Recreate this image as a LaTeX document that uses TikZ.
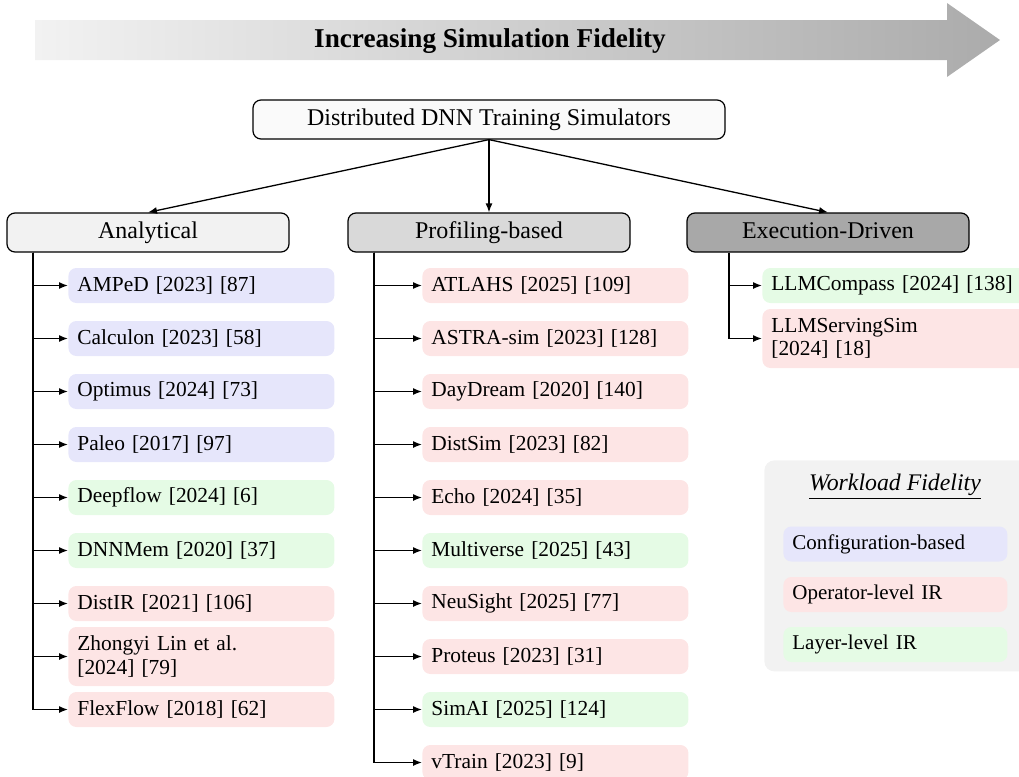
\documentclass[tikz,border=0pt]{standalone}
\usepackage{fontspec}
\setmainfont{Liberation Serif}
\usetikzlibrary{arrows.meta}
\definecolor{leafblue}{HTML}{E6E6FB}
\definecolor{leafred}{HTML}{FDE5E5}
\definecolor{leafgreen}{HTML}{E5FBE5}
\definecolor{legendbg}{HTML}{F2F2F2}
\definecolor{anafill}{HTML}{F2F2F2}
\definecolor{proffill}{HTML}{D9D9D9}
\definecolor{execfill}{HTML}{A8A8A8}
\definecolor{rootfill}{HTML}{FAFAFA}
\definecolor{arrowleft}{HTML}{F2F2F2}
\definecolor{arrowright}{HTML}{ABABAB}
\begin{document}
\begin{tikzpicture}[x=0.5pt,y=-0.5pt,
  rootbox/.style={draw=black, line width=0.6pt, rounded corners=4pt, fill=rootfill,
    minimum width=236pt, minimum height=19.5pt, inner sep=0pt, text height=8.5pt, text depth=2.5pt,
    font=\fontsize{12}{14}\selectfont},
  catbox/.style={draw=black, line width=0.6pt, rounded corners=4pt,
    minimum width=141pt, minimum height=19.5pt, inner sep=0pt, text height=8.5pt, text depth=2.5pt,
    font=\fontsize{12}{14}\selectfont},
  leaf/.style={rounded corners=4pt, anchor=west, minimum width=133pt, minimum height=17.5pt,
    text width=124pt, inner xsep=4.5pt, inner ysep=1pt, align=left,
    font=\fontsize{10.7}{11.8}\selectfont},
  tall/.style={minimum height=29.5pt},
  conf/.style={leaf, fill=leafblue},
  oper/.style={leaf, fill=leafred},
  layer/.style={leaf, fill=leafgreen},
  legitem/.style={rounded corners=4pt, anchor=west, minimum width=112pt, minimum height=17.5pt,
    text width=103pt, inner xsep=4.5pt, inner ysep=1pt, align=left,
    font=\fontsize{10.5}{12}\selectfont},
  conn/.style={line width=0.65pt, -{Latex[length=4.5pt,width=3.5pt]}},
  trunk/.style={line width=0.65pt}
]
\useasboundingbox (0,0) rectangle (1019,777);

% big gradient arrow
\shade[left color=arrowleft, right color=arrowright]
  (35,20) -- (947,20) -- (947,3) -- (1000,40) -- (947,77) -- (947,60) -- (35,60) -- cycle;
\node[font=\fontsize{13.6}{16}\selectfont\bfseries] (title) at (490,41) {Increasing Simulation Fidelity};

% root and categories
\node[rootbox] (root) at (489,119.5) {Distributed DNN Training Simulators};
\node[catbox, fill=anafill] (ana) at (148,232.5) {Analytical};
\node[catbox, fill=proffill] (prof) at (489,232.5) {Profiling-based};
\node[catbox, fill=execfill] (exec) at (828,232.5) {Execution-Driven};

\draw[conn] (root.south) -- (ana.north);
\draw[conn] (root.south) -- (prof.north);
\draw[conn] (root.south) -- (exec.north);

% column 1
\coordinate (c1) at (33,0);
\node[conf]  (a1) at (68,285.5) {AMPeD [2023] [87]};
\node[conf]  (a2) at (68,338.5) {Calculon [2023] [58]};
\node[conf]  (a3) at (68,391.5) {Optimus [2024] [73]};
\node[conf]  (a4) at (68,444.5) {Paleo [2017] [97]};
\node[layer] (a5) at (68,497.5) {Deepflow [2024] [6]};
\node[layer] (a6) at (68,550.5) {DNNMem [2020] [37]};
\node[oper]  (a7) at (68,603.5) {DistIR [2021] [106]};
\node[oper, tall] (a8) at (68,656.5) {Zhongyi Lin et al.\\{}[2024] [79]};
\node[oper]  (a9) at (68,709.5) {FlexFlow [2018] [62]};
\foreach \n in {a1,a2,a3,a4,a5,a6,a7,a8,a9}
  \draw[conn] (ana.south -| c1) |- (\n.west);

% column 2
\coordinate (c2) at (374,0);
\node[oper]  (b1) at (422,285.5) {ATLAHS [2025] [109]};
\node[oper]  (b2) at (422,338.5) {ASTRA-sim [2023] [128]};
\node[oper]  (b3) at (422,391.5) {DayDream [2020] [140]};
\node[oper]  (b4) at (422,444.5) {DistSim [2023] [82]};
\node[oper]  (b5) at (422,497.5) {Echo [2024] [35]};
\node[layer] (b6) at (422,550.5) {Multiverse [2025] [43]};
\node[oper]  (b7) at (422,603.5) {NeuSight [2025] [77]};
\node[oper]  (b8) at (422,656.5) {Proteus [2023] [31]};
\node[layer] (b9) at (422,709.5) {SimAI [2025] [124]};
\node[oper]  (b10) at (422,762.5) {vTrain [2023] [9]};
\foreach \n in {b1,b2,b3,b4,b5,b6,b7,b8,b9,b10}
  \draw[conn] (prof.south -| c2) |- (\n.west);

% column 3
\coordinate (c3) at (729,0);
\node[layer] (e1) at (762,285.5) {LLMCompass [2024] [138]};
\node[oper, tall] (e2) at (762,338.5) {LLMServingSim\\{}[2024] [18]};
\foreach \n in {e1,e2}
  \draw[conn] (exec.south -| c3) |- (\n.west);

% legend
\node[fill=legendbg, rounded corners=5pt, anchor=north west, minimum width=140pt,
  minimum height=105.5pt, inner sep=0pt] (legend) at (764,460) {};
\node[font=\fontsize{11.9}{14}\selectfont] (legtitle) at (895,487) {\underline{\textit{Workload Fidelity}}};
\node[legitem, fill=leafblue]  (l1) at (783,544)   {Configuration-based};
\node[legitem, fill=leafred]   (l2) at (783,594.5) {Operator-level IR};
\node[legitem, fill=leafgreen] (l3) at (783,644.5) {Layer-level IR};
\end{tikzpicture}
\end{document}
